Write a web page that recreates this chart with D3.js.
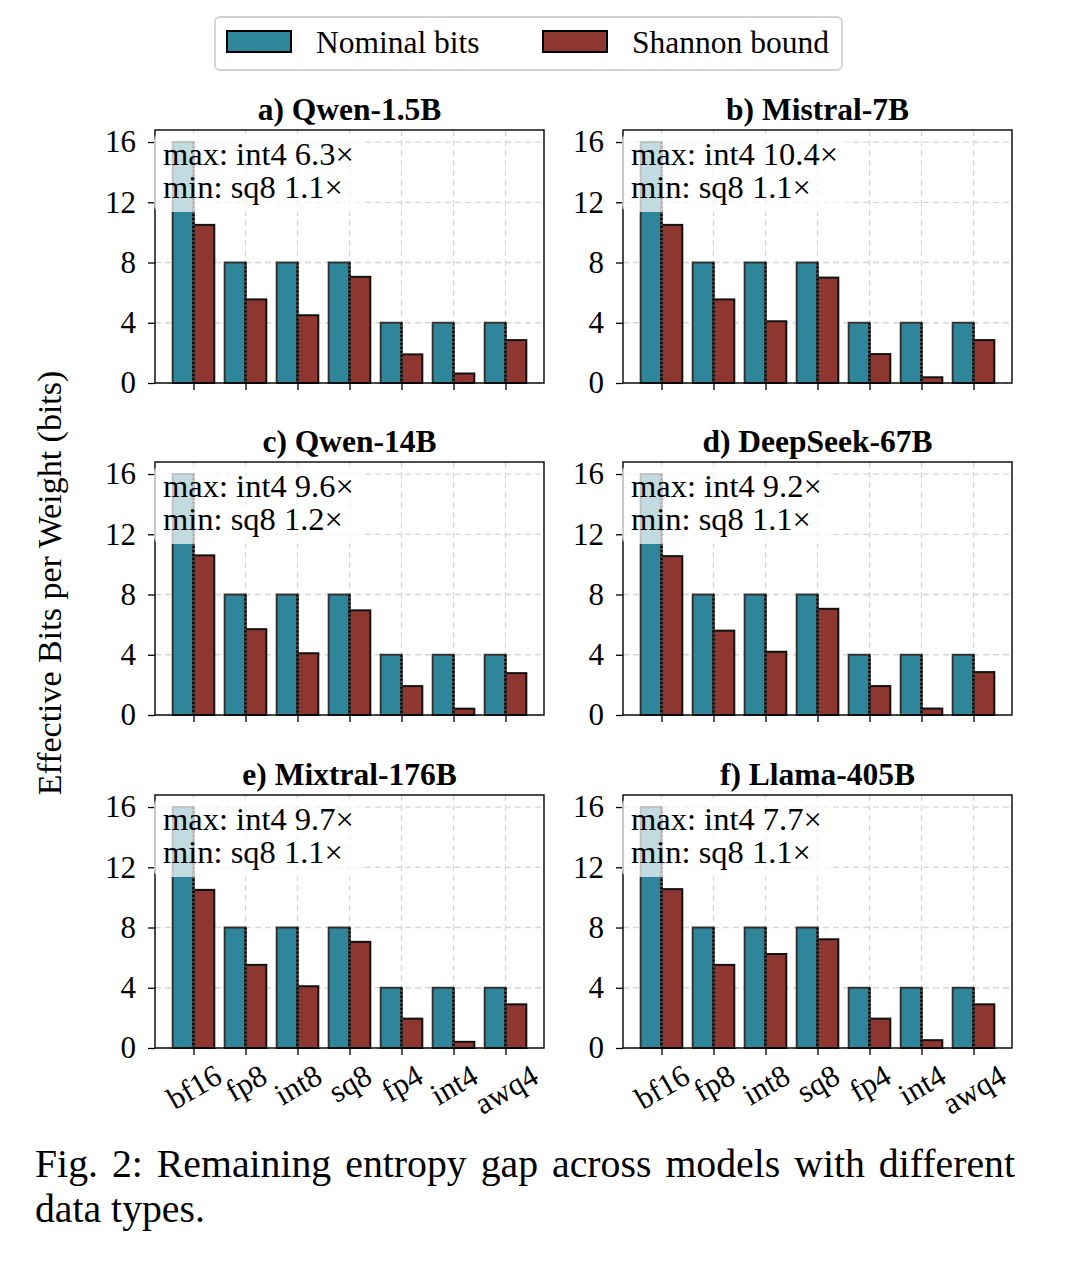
<!DOCTYPE html>
<html lang="en">
    <head>
        <meta charset="utf-8" />
        <title>Remaining entropy gap</title>
        <script type="text/javascript" src="https://cdn.jsdelivr.net/npm/d3@7"></script>
        <style type="text/css">
            body {
                margin: 0;
                background: white;
            }
            svg text {
                font-family: "Liberation Serif", "Times New Roman", serif;
            }
        </style>
    </head>
    <body>
        <script type="text/javascript">
            var categories = ["bf16", "fp8", "int8", "sq8", "fp4", "int4", "awq4"];
            var models = [
                "a) Qwen-1.5B",
                "b) Mistral-7B",
                "c) Qwen-14B",
                "d) DeepSeek-67B",
                "e) Mixtral-176B",
                "f) Llama-405B"
            ];
            var nominalBits = [16, 8, 8, 8, 4, 4, 4];
            var shannonQwen15 = [10.5, 5.55, 4.5, 7.05, 1.9, 0.63, 2.85];
            var shannonMistral7 = [10.5, 5.55, 4.1, 7.0, 1.92, 0.38, 2.85];
            var shannonQwen14 = [10.6, 5.7, 4.1, 6.95, 1.92, 0.42, 2.78];
            var shannonDeepSeek67 = [10.55, 5.6, 4.2, 7.05, 1.92, 0.43, 2.85];
            var shannonMixtral176 = [10.5, 5.52, 4.1, 7.05, 1.95, 0.41, 2.9];
            var shannonLlama405 = [10.55, 5.52, 6.24, 7.22, 1.95, 0.52, 2.9];
            var shannonBounds = [
                shannonQwen15,
                shannonMistral7,
                shannonQwen14,
                shannonDeepSeek67,
                shannonMixtral176,
                shannonLlama405
            ];
            var maxLabels = [
                "max: int4 6.3×",
                "max: int4 10.4×",
                "max: int4 9.6×",
                "max: int4 9.2×",
                "max: int4 9.7×",
                "max: int4 7.7×"
            ];
            var minLabels = [
                "min: sq8 1.1×",
                "min: sq8 1.1×",
                "min: sq8 1.2×",
                "min: sq8 1.1×",
                "min: sq8 1.1×",
                "min: sq8 1.1×"
            ];
            var yTicks = [0, 4, 8, 12, 16];
            var seriesNames = ["Nominal bits", "Shannon bound"];
            var captionLine1 = "Fig. 2: Remaining entropy gap across models with different";
            var captionLine2 = "data types.";

            var w = 1086;
            var h = 1266;
            var colLeft = [155, 623];
            var rowTop = [130, 462, 795];
            var pw = 389;
            var ph = 253;
            var barW = 0.4;
            var nominalColor = "#2f8599";
            var shannonColor = "#8e3731";

            var svg = d3
                .select("body")
                .append("svg")
                .attr("width", w)
                .attr("height", h);

            var xScale = d3
                .scaleLinear()
                .domain([-0.74, categories.length - 1 + 0.74])
                .range([0, pw]);
            var yScale = d3.scaleLinear().domain([0, 16.8]).range([ph, 0]);

            models.forEach(function(title, m) {
                var g = svg
                    .append("g")
                    .attr(
                        "transform",
                        "translate(" + colLeft[m % 2] + "," + rowTop[Math.floor(m / 2)] + ")"
                    );
                var shannon = shannonBounds[m];

                // grid
                g.selectAll("line.hgrid")
                    .data(yTicks)
                    .enter()
                    .append("line")
                    .attr("x1", 0)
                    .attr("x2", pw)
                    .attr("y1", function(d) { return yScale(d); })
                    .attr("y2", function(d) { return yScale(d); })
                    .attr("stroke", "#d6d6d6")
                    .attr("stroke-width", 1.3)
                    .attr("stroke-dasharray", "6,4");
                g.selectAll("line.vgrid")
                    .data(categories)
                    .enter()
                    .append("line")
                    .attr("x1", function(d, i) { return xScale(i); })
                    .attr("x2", function(d, i) { return xScale(i); })
                    .attr("y1", 0)
                    .attr("y2", ph)
                    .attr("stroke", "#d6d6d6")
                    .attr("stroke-width", 1.3)
                    .attr("stroke-dasharray", "6,4");

                // bars
                g.selectAll("rect.nominal")
                    .data(nominalBits)
                    .enter()
                    .append("rect")
                    .attr("x", function(d, i) { return xScale(i - barW); })
                    .attr("y", function(d) { return yScale(d); })
                    .attr("width", xScale(barW) - xScale(0))
                    .attr("height", function(d) { return ph - yScale(d); })
                    .attr("fill", nominalColor)
                    .attr("stroke", "#333")
                    .attr("stroke-width", 2);
                g.selectAll("rect.shannon")
                    .data(shannon)
                    .enter()
                    .append("rect")
                    .attr("x", function(d, i) { return xScale(i); })
                    .attr("y", function(d) { return yScale(d); })
                    .attr("width", xScale(barW) - xScale(0))
                    .attr("height", function(d) { return ph - yScale(d); })
                    .attr("fill", shannonColor)
                    .attr("stroke", "#111")
                    .attr("stroke-width", 2);
                // shared edge: grey with black dots
                g.selectAll("line.edgeBg")
                    .data(nominalBits)
                    .enter()
                    .append("line")
                    .attr("x1", function(d, i) { return xScale(i); })
                    .attr("x2", function(d, i) { return xScale(i); })
                    .attr("y1", function(d) { return yScale(d); })
                    .attr("y2", ph)
                    .attr("stroke", "#454545")
                    .attr("stroke-width", 2.2);
                g.selectAll("line.edgeDot")
                    .data(nominalBits)
                    .enter()
                    .append("line")
                    .attr("x1", function(d, i) { return xScale(i); })
                    .attr("x2", function(d, i) { return xScale(i); })
                    .attr("y1", function(d) { return yScale(d); })
                    .attr("y2", ph)
                    .attr("stroke", "#000")
                    .attr("stroke-width", 2.2)
                    .attr("stroke-dasharray", "2,2");

                // axes
                var xAxis = d3
                    .axisBottom(xScale)
                    .tickValues(d3.range(categories.length))
                    .tickSize(7)
                    .tickFormat(function(d) { return m >= 4 ? categories[d] : ""; });
                var gx = g
                    .append("g")
                    .attr("transform", "translate(0," + ph + ")")
                    .call(xAxis);
                gx.select(".domain").remove();
                gx.selectAll(".tick line").attr("stroke", "#000").attr("stroke-width", 1.3);
                gx.selectAll(".tick text")
                    .attr("font-size", "31px")
                    .attr("font-family", "Liberation Serif")
                    .attr("fill", "#000")
                    .attr("text-anchor", "middle")
                    .attr("dominant-baseline", "central")
                    .each(function() {
                        var t = d3.select(this);
                        var len = this.getComputedTextLength();
                        var th = 27;
                        var cy = 13 + (len * 0.5 + th * 0.866) / 2;
                        t.attr("x", 0)
                            .attr("y", cy)
                            .attr("dy", null)
                            .attr("transform", "rotate(-30,0," + cy + ")");
                    });

                var yAxis = d3
                    .axisLeft(yScale)
                    .tickValues(yTicks)
                    .tickSize(7)
                    .tickPadding(12);
                var gy = g.append("g").call(yAxis);
                gy.select(".domain").remove();
                gy.selectAll(".tick line").attr("stroke", "#000").attr("stroke-width", 1.3);
                gy.selectAll(".tick text")
                    .attr("font-size", "31px")
                    .attr("font-family", "Liberation Serif")
                    .attr("fill", "#000");

                // frame
                g.append("rect")
                    .attr("width", pw)
                    .attr("height", ph)
                    .attr("fill", "none")
                    .attr("stroke", "#000")
                    .attr("stroke-width", 1.4);

                // title
                g.append("text")
                    .attr("x", pw / 2)
                    .attr("y", -10)
                    .attr("text-anchor", "middle")
                    .attr("font-size", "31.5px")
                    .attr("font-weight", "bold")
                    .text(title);

                // annotation box
                var box = g.append("rect");
                var t1 = g
                    .append("text")
                    .attr("x", 8)
                    .attr("y", 35)
                    .attr("font-size", "32.5px")
                    .text(maxLabels[m]);
                var t2 = g
                    .append("text")
                    .attr("x", 8)
                    .attr("y", 68)
                    .attr("font-size", "32.5px")
                    .text(minLabels[m]);
                var tw = Math.max(t1.node().getComputedTextLength(), t2.node().getComputedTextLength());
                box.attr("x", -1)
                    .attr("y", 3)
                    .attr("width", tw + 18)
                    .attr("height", 79)
                    .attr("rx", 7)
                    .attr("fill", "#fff")
                    .attr("fill-opacity", 0.7)
                    .attr("stroke", "none");
            });

            // y label
            svg.append("text")
                .attr("transform", "translate(61,583) rotate(-90)")
                .attr("text-anchor", "middle")
                .attr("font-size", "34px")
                .text("Effective Bits per Weight (bits)");

            // legend
            var legend = svg.append("g");
            legend
                .append("rect")
                .attr("x", 215)
                .attr("y", 17)
                .attr("width", 627)
                .attr("height", 53)
                .attr("rx", 5)
                .attr("fill", "#fff")
                .attr("stroke", "#d3d3d3")
                .attr("stroke-width", 1.8);
            var legendX = [227, 543];
            var legendColors = [nominalColor, shannonColor];
            legend
                .selectAll("rect.patch")
                .data(seriesNames)
                .enter()
                .append("rect")
                .attr("x", function(d, i) { return legendX[i]; })
                .attr("y", 31)
                .attr("width", 64)
                .attr("height", 21)
                .attr("fill", function(d, i) { return legendColors[i]; })
                .attr("stroke", "#000")
                .attr("stroke-width", 2);
            legend
                .selectAll("text")
                .data(seriesNames)
                .enter()
                .append("text")
                .attr("x", function(d, i) { return legendX[i] + 89; })
                .attr("y", 53)
                .attr("font-size", "31.5px")
                .text(function(d) { return d; });

            // caption, justified first line
            var capLeft = 35;
            var capRight = 1015;
            var capSize = 39;
            var line2 = svg
                .append("text")
                .attr("x", capLeft)
                .attr("y", 1222)
                .attr("font-size", capSize + "px")
                .text(captionLine2);
            var squeeze = 170 / line2.node().getComputedTextLength();
            line2.attr("transform", "translate(" + capLeft + ",0) scale(" + squeeze + ",1) translate(" + -capLeft + ",0)");

            var words = captionLine1.split(" ");
            var wordG = svg.append("g");
            var wordNodes = words.map(function(word) {
                return wordG
                    .append("text")
                    .attr("y", 1177)
                    .attr("font-size", capSize + "px")
                    .text(word);
            });
            var widths = wordNodes.map(function(t) {
                return t.node().getComputedTextLength() * squeeze;
            });
            var gap = (capRight - capLeft - d3.sum(widths)) / (words.length - 1);
            var cx = capLeft;
            wordNodes.forEach(function(t, i) {
                t.attr("transform", "translate(" + cx + ",0) scale(" + squeeze + ",1)");
                cx += widths[i] + gap;
            });
        </script>
    </body>
</html>
